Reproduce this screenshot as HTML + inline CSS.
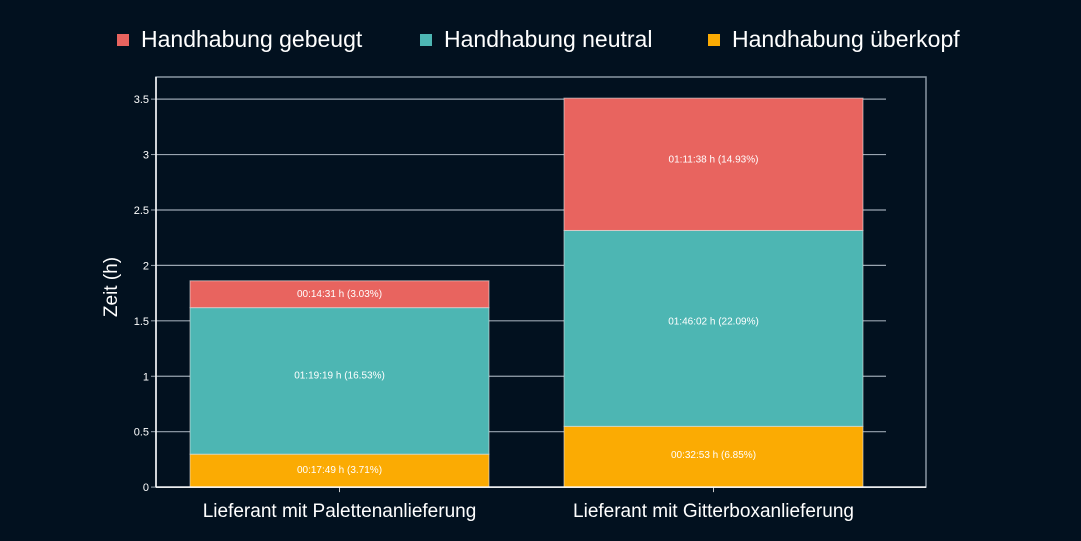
<!DOCTYPE html>
<html><head><meta charset="utf-8"><style>
body{margin:0;background:#02111f;}
svg{display:block;font-family:"Liberation Sans",sans-serif;}
</style></head><body>
<svg id="c" width="1081" height="541">
<rect width="1081" height="541" fill="#02111f"/>
</svg>
<script>
const categories=["Lieferant mit Palettenanlieferung","Lieferant mit Gitterboxanlieferung"];
const seriesNames=["Handhabung überkopf","Handhabung neutral","Handhabung gebeugt"];
const ueberkopf=[0.297,0.548];
const neutral=[1.322,1.767];
const gebeugt=[0.242,1.194];
const labelsUeberkopf=["00:17:49 h (3.71%)","00:32:53 h (6.85%)"];
const labelsNeutral=["01:19:19 h (16.53%)","01:46:02 h (22.09%)"];
const labelsGebeugt=["00:14:31 h (3.03%)","01:11:38 h (14.93%)"];
const yTicks=[0,0.5,1,1.5,2,2.5,3,3.5];
const yTickLabels=["0","0.5","1","1.5","2","2.5","3","3.5"];
const colors=["#fbab03","#4db6b3","#e8645f"];
const NS="http://www.w3.org/2000/svg";
const svg=document.getElementById('c');
function el(t,a,txt){const e=document.createElementNS(NS,t);for(const k in a)e.setAttribute(k,a[k]);if(txt!=null)e.textContent=txt;svg.appendChild(e);return e;}
const x0=156,x1=926,yBase=487.1,unit=110.85;
const y=v=>yBase-v*unit;
const barLeft=[190,564],barW=299;
let f=el('rect',{x:x0,y:77,width:x1-x0,height:yBase-77,fill:'none',stroke:'#8a97a3','stroke-width':1.5});

yTicks.forEach((t,i)=>{
 if(t>0){const g=el('line',{x1:x0,x2:886,y1:y(t),y2:y(t),stroke:'#9aa5b0','stroke-width':1.2});
 }
 el('line',{x1:151,x2:156,y1:y(t),y2:y(t),stroke:'#9aa5b0'});
 const l=el('text',{x:149,y:y(t)+4,'text-anchor':'end','font-size':11,fill:'#fff'},yTickLabels[i]);
 
});
const series=[ueberkopf,neutral,gebeugt];
const labs=[labelsUeberkopf,labelsNeutral,labelsGebeugt];
categories.forEach((c,i)=>{
 let base=0;
 series.forEach((s,j)=>{
  const top=base+s[i];
  const h=y(base)-y(top);
  const r=el('rect',{x:barLeft[i],y:y(top),width:barW,height:h,fill:colors[j],stroke:'#e6e6e6','stroke-opacity':0.6,'stroke-width':1});
  
  const off=Math.min(8,h*0.045);
  const t=el('text',{x:barLeft[i]+barW/2,y:(y(base)+y(top))/2+4-off,'text-anchor':'middle','font-size':10,fill:'#fff'},labs[j][i]);
  
  base=top;
 });
 el('line',{x1:barLeft[i]+barW/2,x2:barLeft[i]+barW/2,y1:yBase,y2:yBase+5,stroke:'#ccc'});
 const xl=el('text',{x:barLeft[i]+barW/2,y:517,'text-anchor':'middle','font-size':19,fill:'#fff'},c);
 
});
el('line',{x1:x0,x2:x0,y1:77,y2:yBase,stroke:'#fff','stroke-width':1.5});
el('line',{x1:x0,x2:x1,y1:yBase,y2:yBase,stroke:'#fff','stroke-width':1.5});
const yt=el('text',{x:0,y:0,'text-anchor':'middle','font-size':19,fill:'#fff',transform:'translate(117,287) rotate(-90)'},'Zeit (h)');

const legend=[[117,"Handhabung gebeugt",colors[2]],[420,"Handhabung neutral",colors[1]],[708,"Handhabung überkopf",colors[0]]];
legend.forEach(([lx,name,col])=>{
 const r=el('rect',{x:lx,y:34,width:12,height:12,fill:col});
 
 const t=el('text',{x:lx+24,y:47,'font-size':23,fill:'#fff'},name);
 
});
</script>
</body></html>
